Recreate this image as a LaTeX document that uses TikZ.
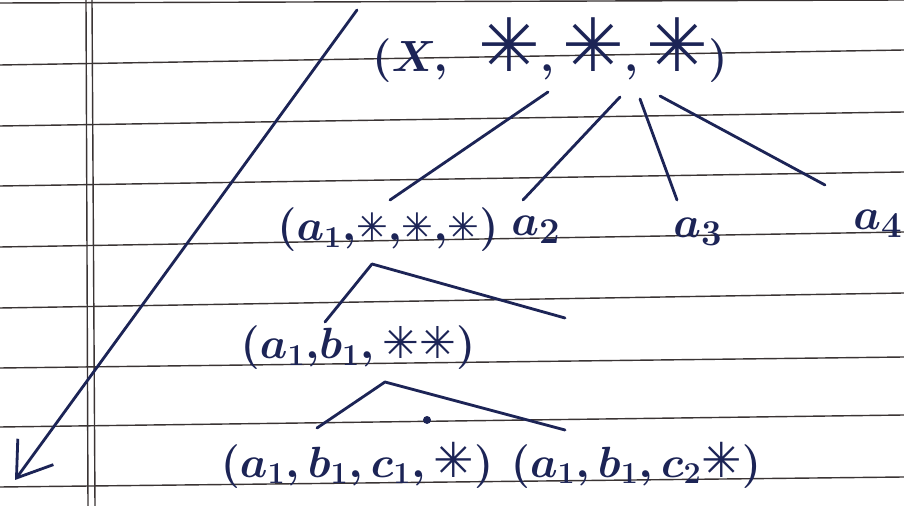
\documentclass[tikz,border=0pt]{standalone}
\usepackage{amsmath}
\usepackage{fontspec}
\usepackage{xcolor}
\usetikzlibrary{arrows.meta,calc}
\newfontfamily\starfont{DejaVu Sans}
\definecolor{ink}{HTML}{1C2456}
\definecolor{ruling}{HTML}{3A3434}
\makeatletter
\newcommand{\st}[1][1]{\mathord{\text{\fontsize{\the\dimexpr #1\dimexpr\f@size pt\relax\relax}{0pt}\starfont ✳}}}
\makeatother

\begin{document}
\begin{tikzpicture}[
  x=0.02cm, y=-0.02cm,
  rule/.style={draw=ruling, line width=0.8pt},
  lab/.style={text=ink, inner sep=0pt},
  big/.style={lab, font=\boldmath\fontsize{42}{46}\selectfont},
  mid/.style={lab, font=\boldmath\fontsize{25}{29}\selectfont},
  leaf/.style={lab, font=\boldmath\fontsize{31}{34}\selectfont},
  sml/.style={lab, font=\boldmath\fontsize{25}{28}\selectfont},
  edge/.style={draw=ink, line width=1.6pt, line cap=round, line join=round},
  arr/.style={edge, -{Straight Barb[length=6.5mm,width=8.8mm,line width=1.6pt]}}
]
\useasboundingbox[fill=white] (0,0) rectangle (904,506);

% notebook ruling
\foreach \l/\r in {3/0, 65/50, 126/112, 186/172, 247/232, 308/293, 368/357, 427/415, 487/477}
  \draw[rule] (0,\l) -- (904,\r);
\draw[rule] (86,0) -- (88,506);
\draw[rule] (92,0) -- (95,506);

\node[big] (root) at (550,50) {$(X,\ \st,\st,\st)$};
\node[mid, font=\boldmath\fontsize{24}{28}\selectfont] (a1s) at (388,230) {$(a_1{,}\st[0.9]{,}\st[0.9]{,}\st[0.9])$};
\node[leaf] (a2) at (536,230) {$a_2$};
\node[leaf] (a3) at (698,232) {$a_3$};
\node[leaf] (a4) at (878,224) {$a_4$};
\node[mid] (a1b1) at (358,348) {$(a_1{,}b_1{,}\,\st\st)$};
\node[sml] (c1) at (357,465) {$(a_1,b_1,c_1,\st[1.1])$};
\node[sml] (c2) at (636,465) {$(a_1,b_1,c_2\st[1.1])$};
\node[circle, fill=ink, inner sep=1.6pt] (dot) at (427,420) {};

\coordinate (nb) at (565,318);
\coordinate (arrtop) at (357,10);
\coordinate (arrtip) at (15,480);

\draw[edge] ($(root)+(-2,42)$) -- ($(a1s)+(2,-30)$);
\draw[edge] ($(root)+(70,47)$) -- ($(a2)+(-13,-30)$);
\draw[edge] ($(root)+(90,49)$) -- ($(a3)+(-21,-32)$);
\draw[edge] ($(root)+(110,46)$) -- ($(a4)+(-53,-39)$);

\draw[edge] ($(a1b1)+(-33,-26)$) -- ($(a1s)+(-16,34)$) -- (nb);
\draw[edge] ($(c1)+(-40,-37)$) -- ($(a1b1)+(27,34)$) -- ($(c2)+(-71,-35)$);

\draw[arr] (arrtop) -- (arrtip);
\end{tikzpicture}
\end{document}
